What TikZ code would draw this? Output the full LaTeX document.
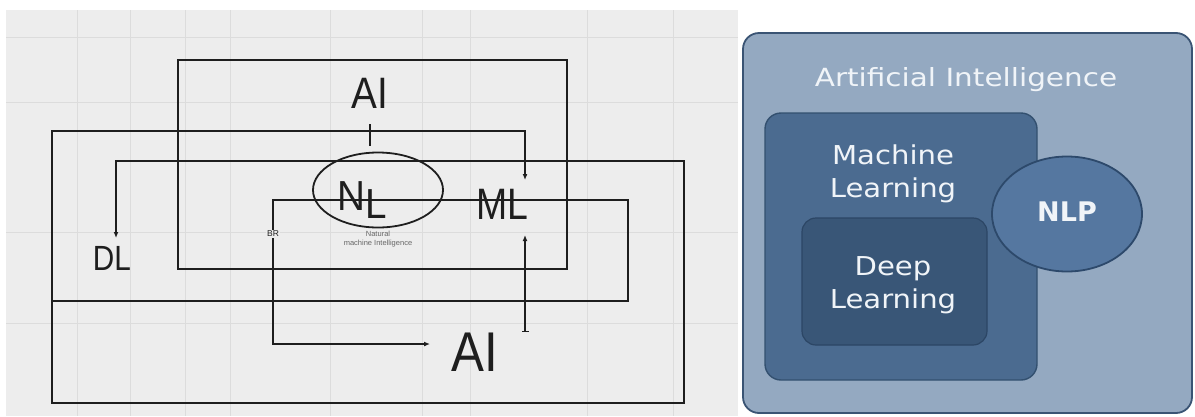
\documentclass[tikz,border=0pt]{standalone}
\usepackage{fontspec}
\setmainfont{Liberation Sans}
\newfontfamily\dv{DejaVu Sans}
\usetikzlibrary{arrows.meta,shapes.geometric}
\definecolor{paper}{HTML}{EDEDED}
\definecolor{gridc}{HTML}{DCDCDC}
\definecolor{ink}{HTML}{1E1E1E}
\definecolor{aifill}{HTML}{94A9C1}
\definecolor{aidraw}{HTML}{3A5474}
\definecolor{mlfill}{HTML}{4B6B90}
\definecolor{mldraw}{HTML}{33506F}
\definecolor{dlfill}{HTML}{395677}
\definecolor{dldraw}{HTML}{2C4665}
\definecolor{nlpfill}{HTML}{5577A0}
\definecolor{nlpdraw}{HTML}{2D496B}
\definecolor{pale}{HTML}{F0F4F8}
\newcommand{\sx}[2]{\scalebox{#1}[1]{#2}}
\tikzset{
  ln/.style={line width=2.3pt, draw=ink},
  tipped/.style={-{Latex[length=6pt,width=5pt]}},
  faint/.style={draw=gridc, line width=0.7pt},
  sk/.style={inner sep=0pt, text=ink},
  panel/.style={rounded corners=16pt, line width=1.8pt, inner sep=0pt},
  wtext/.style={text=pale, align=center, inner sep=0pt},
}
\begin{document}
\begin{tikzpicture}[x=1pt, y=-1pt]
\useasboundingbox (0,0) rectangle (1195,416);
\fill[white] (0,0) rectangle (1195,416);
% left sketch panel
\fill[paper] (6,10) rectangle (738,416);
\foreach \gx in {77,130,185,230,330,422,470,587,673}
  \draw[faint] (\gx,10) -- (\gx,416);
\foreach \gy in {37,102,232,323}
  \draw[faint] (6,\gy) -- (738,\gy);

% coordinates
\coordinate (mlIn) at (525,180);
\coordinate (dlIn) at (116,238);
\coordinate (q1) at (525,131);
\coordinate (q2) at (52,131);
\coordinate (q3) at (52,403);
\coordinate (q4) at (684,403);
\coordinate (q5) at (684,161);
\coordinate (q6) at (116,161);
\coordinate (r1) at (52,301);
\coordinate (r2) at (628,301);
\coordinate (r3) at (628,200);
\coordinate (r4) at (273,200);
\coordinate (r5) at (273,344);
\coordinate (aiIn) at (430,344);
\coordinate (mlOut) at (525,332);
\coordinate (mlIn2) at (525,235);
\coordinate (tk1) at (370,124);
\coordinate (tk2) at (370,146);

% box
\draw[ln] (178,60) rectangle (567,269);

% ellipse
\node[ellipse, draw=ink, line width=1.8pt, minimum width=130pt, minimum height=75pt, inner sep=0pt] (ell) at (378,190) {};

% labels
\node[sk, font=\fontsize{44}{48}\selectfont] (aiTop) at (370,93) {\sx{0.88}{AI}};
\node[sk, font=\fontsize{35}{40}\selectfont] (dl) at (112,258) {\sx{0.85}{DL}};
\node[sk, font=\fontsize{44}{48}\selectfont] (ml) at (502,204) {\sx{0.85}{ML}};
\node[sk, font=\fontsize{56}{60}\selectfont] (aiBot) at (475,352) {\sx{0.88}{AI}};
\node[sk, font=\fontsize{8.5}{9}\selectfont, fill=paper, inner sep=1pt] (br) at (273,234) {BR};

% connectors
\draw[ln, {Latex[length=6pt,width=5pt]}-{Latex[length=6pt,width=5pt]}]
  (mlIn) -- (q1) -- (q2) -- (q3) -- (q4) -- (q5) -- (q6) -- (dlIn);
\draw[ln] (r1) -- (r2) -- (r3) -- (r4) -- (br.north);
\draw[ln, tipped] (br.south) -- (r5) -- (aiIn);
\draw[ln, {Bar[width=7pt,line width=0.8pt]}-{Latex[length=6pt,width=5pt]}] (mlOut) -- (mlIn2);
\draw[ln] (tk1) -- (tk2);

% ellipse text
\node[sk, anchor=base, font=\fontsize{42}{46}\selectfont] (nl) at (362,210) {\sx{0.92}{N\raisebox{-8pt}{L}}};
\node[sk, text=black!60, font=\fontsize{7.5}{8.5}\selectfont, align=center] (note) at (378,239) {Natural\\machine Intelligence};

% right panel
\node[panel, draw=aidraw, fill=aifill, minimum width=449pt, minimum height=380pt] (aiBox) at (967.5,223) {};
\node[panel, draw=mldraw, fill=mlfill, line width=1.4pt, minimum width=272pt, minimum height=267pt] (mlBox) at (901,246.5) {};
\node[panel, draw=dldraw, fill=dlfill, line width=1.2pt, rounded corners=14pt, minimum width=185pt, minimum height=127pt] (dlBox) at (894.5,281.5) {};
\node[ellipse, draw=nlpdraw, fill=nlpfill, line width=1.8pt, minimum width=150pt, minimum height=115pt, inner sep=0pt] (nlpBox) at (1067,214) {};

\node[wtext, font=\dv\fontsize{25}{30}\selectfont] (aiT) at (966,80) {\sx{1.18}{Artificial Intelligence}};
\node[wtext, font=\dv\fontsize{26}{33}\selectfont] (mlT) at (893,174) {\sx{1.12}{Machine}\\\sx{1.12}{Learning}};
\node[wtext, font=\dv\fontsize{26}{33}\selectfont] (dlT) at (893,285) {\sx{1.12}{Deep}\\\sx{1.12}{Learning}};
\node[wtext, font=\dv\bfseries\fontsize{27}{30}\selectfont] (nlpT) at (1067,212) {NLP};
\end{tikzpicture}
\end{document}
